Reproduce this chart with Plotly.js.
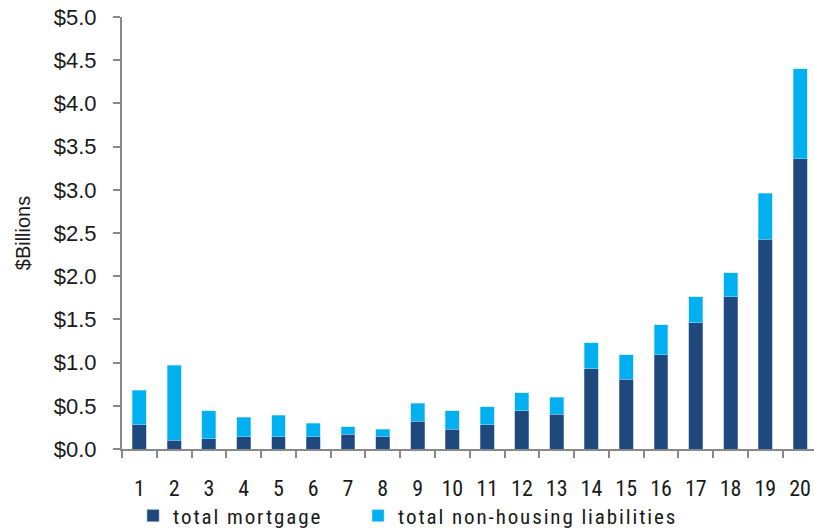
<!DOCTYPE html>
<html>
<head>
<meta charset="utf-8">
<script src="https://cdn.plot.ly/plotly-3.0.1.min.js"></script>
<style>
html,body{margin:0;padding:0;background:#fff;}
#chart{width:814px;height:531px;}
.legendtext{letter-spacing:1.9px;}
.legend .scrollbox{clip-path:none !important;}
</style>
</head>
<body>
<div id="chart"></div>
<script>
const categories = ["1","2","3","4","5","6","7","8","9","10","11","12","13","14","15","16","17","18","19","20"];
const totalMortgage = [0.28,0.10,0.12,0.14,0.14,0.14,0.17,0.14,0.32,0.23,0.28,0.44,0.40,0.93,0.81,1.09,1.46,1.76,2.43,3.36];
const totalNonHousing = [0.40,0.87,0.32,0.23,0.25,0.16,0.09,0.09,0.21,0.21,0.21,0.21,0.20,0.30,0.28,0.35,0.30,0.28,0.53,1.04];
const yTickVals = [0,0.5,1,1.5,2,2.5,3,3.5,4,4.5,5];
const yTickText = ["$0.0","$0.5","$1.0","$1.5","$2.0","$2.5","$3.0","$3.5","$4.0","$4.5","$5.0"];

const narrow = "Roboto Condensed, Roboto, sans-serif";
const regular = "Liberation Sans, Arial, sans-serif";

const traces = [
  {type:'bar', name:'total mortgage', x:categories, y:totalMortgage,
   marker:{color:'#1F497D', line:{color:'#8fa6c4', width:0.5}}, width:0.4},
  {type:'bar', name:'total non-housing liabilities', x:categories, y:totalNonHousing,
   marker:{color:'#00B0F0', line:{color:'#9fe0f8', width:0.5}}, width:0.4}
];

const layout = {
  width:814, height:531,
  margin:{l:122, r:0, t:17, b:82, autoexpand:false},
  barmode:'stack',
  paper_bgcolor:'#fff', plot_bgcolor:'#fff',
  showlegend:true,
  legend:{orientation:'h', traceorder:'normal', x:0.016, xanchor:'left', y:-0.155, yanchor:'middle',
          font:{family:narrow, size:21, color:'#1a1a1a'}, entrywidth:180, entrywidthmode:'pixels',
          bgcolor:'rgba(0,0,0,0)'},
  xaxis:{type:'category', range:[-0.5,19.4], showgrid:false, zeroline:false,
         showline:true, linecolor:'#888', linewidth:2, tickangle:0,
         ticks:'outside', tickson:'boundaries', ticklen:7, tickcolor:'#888', tickwidth:2,
         ticklabelstandoff:19,
         tickfont:{family:narrow, size:22, color:'#1a1a1a'}, automargin:false},
  yaxis:{range:[0,5], tickvals:yTickVals, ticktext:yTickText, showgrid:false, zeroline:false,
         showline:true, linecolor:'#888', linewidth:2,
         ticks:'outside', ticklen:7, tickcolor:'#888', tickwidth:2,
         ticklabelstandoff:12,
         tickfont:{family:regular, size:22, color:'#1a1a1a'},
         title:{text:'$Billions', font:{family:regular, size:20, color:'#1a1a1a'}, standoff:18},
         automargin:false}
};

Plotly.newPlot('chart', traces, layout, {displayModeBar:false, staticPlot:true});
</script>
</body>
</html>
